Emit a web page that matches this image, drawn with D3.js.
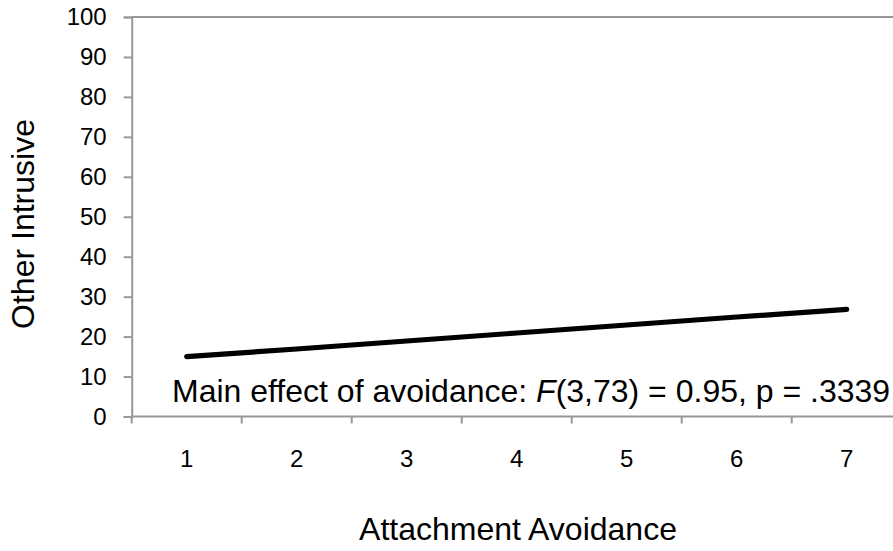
<!DOCTYPE html>
<html>
<head>
<meta charset="utf-8">
<script src="https://cdn.jsdelivr.net/npm/d3@7"></script>
<style>
  html, body { margin: 0; padding: 0; background: #fff; }
  svg { display: block; }
  text { font-family: "Liberation Sans", Arial, sans-serif; fill: #000; }
</style>
</head>
<body>
<svg id="chart" width="893" height="551"></svg>
<script>
const categories = ["1", "2", "3", "4", "5", "6", "7"];
const values = [15.0, 16.9, 18.9, 20.9, 22.9, 24.9, 26.8];
const yTicks = [0, 10, 20, 30, 40, 50, 60, 70, 80, 90, 100];
const xTitle = "Attachment Avoidance";
const yTitle = "Other Intrusive";

const svg = d3.select("#chart");
const axisColor = "#989898";

const x = d3.scaleBand().domain(categories).range([131.7, 901.7]).padding(0);
const y = d3.scaleLinear().domain([0, 100]).range([416.5, 17]);

// top border line at 100
svg.append("line")
  .attr("x1", x.range()[0]).attr("x2", 893)
  .attr("y1", y(100)).attr("y2", y(100))
  .attr("stroke", axisColor).attr("stroke-width", 2);

// Y axis
const yAxis = svg.append("g").attr("transform", `translate(${x.range()[0]},0)`)
  .call(d3.axisLeft(y).tickValues(yTicks).tickSize(8).tickPadding(17));
yAxis.select(".domain").attr("stroke", axisColor).attr("stroke-width", 2);
yAxis.selectAll(".tick line").attr("stroke", axisColor).attr("stroke-width", 2);
yAxis.selectAll(".tick text")
  .style("font-family", "'Liberation Sans', Arial, sans-serif")
  .style("font-size", "24px").attr("fill", "#000");

// X axis: ticks at band boundaries
const xAxisG = svg.append("g").attr("transform", `translate(0,${y(0)})`);
xAxisG.append("line")
  .attr("x1", x.range()[0]).attr("x2", 893)
  .attr("y1", 0).attr("y2", 0)
  .attr("stroke", axisColor).attr("stroke-width", 2);
const boundaries = categories.map(c => x(c)).concat([x(categories[categories.length - 1]) + x.bandwidth()]);
xAxisG.selectAll("line.tk").data(boundaries).join("line")
  .attr("class", "tk")
  .attr("x1", d => d).attr("x2", d => d)
  .attr("y1", 0).attr("y2", 7)
  .attr("stroke", axisColor).attr("stroke-width", 2);
xAxisG.selectAll("text.lbl").data(categories).join("text")
  .attr("class", "lbl")
  .attr("x", d => x(d) + x.bandwidth() / 2)
  .attr("y", 50)
  .attr("text-anchor", "middle")
  .style("font-size", "24px")
  .text(d => d);

// Line
const line = d3.line()
  .x((d, i) => x(categories[i]) + x.bandwidth() / 2)
  .y(d => y(d));
svg.append("path")
  .datum(values)
  .attr("d", line)
  .attr("fill", "none")
  .attr("stroke", "#000")
  .attr("stroke-width", 5.2)
  .attr("stroke-linecap", "round")
  .attr("stroke-linejoin", "round");

// Annotation
const ann = svg.append("text")
  .attr("x", 172).attr("y", 402)
  .style("font-size", "32px");
ann.append("tspan").text("Main effect of avoidance: ");
ann.append("tspan").style("font-style", "italic").text("F");
ann.append("tspan").text("(3,73) = 0.95, p = .3339");

// Axis titles
svg.append("text")
  .attr("x", 518).attr("y", 540)
  .attr("text-anchor", "middle")
  .style("font-size", "32px")
  .text(xTitle);

svg.append("text")
  .attr("transform", `translate(34,224) rotate(-90)`)
  .attr("text-anchor", "middle")
  .style("font-size", "32px")
  .text(yTitle);
</script>
</body>
</html>
